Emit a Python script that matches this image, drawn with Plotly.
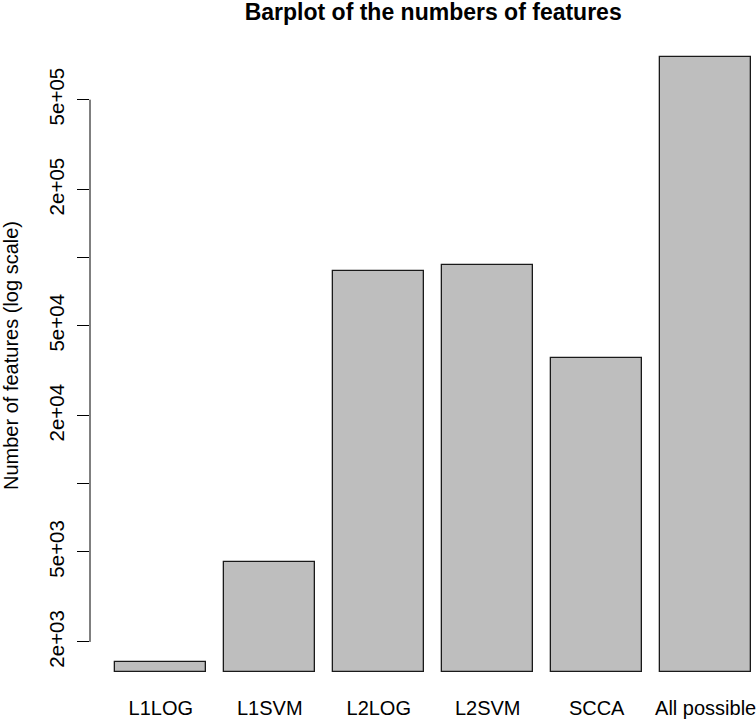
import math

import plotly.graph_objects as go

# data (log scale)
methods = ["L1LOG", "L1SVM", "L2LOG", "L2SVM", "SCCA", "All possible"]
n_features = [1630, 4520, 87600, 93100, 36100, 775000]

tick_vals = [2000, 5000, 10000, 20000, 50000, 100000, 200000, 500000]
tick_text = ["2e+03", "5e+03", "", "2e+04", "5e+04", "", "2e+05", "5e+05"]

FONT = "Liberation Sans, Arial, Helvetica, sans-serif"

# R barplot geometry: width 1, space 0.2, bars rest on 0.9 * min(height)
centers = [0.7 + 1.2 * i for i in range(len(methods))]
rect_base = 0.9 * min(n_features)

lo, hi = math.log10(rect_base), math.log10(max(n_features))
pad = 0.04 * (hi - lo)
y_range = [lo - pad, hi + pad]

W, H = 756, 719
L, R, T, B = 90, 0, 32, 22
px_per_unit = 90.8
x_range = [-0.08, -0.08 + (W - L - R) / px_per_unit]

fig = go.Figure()
fig.add_trace(
    go.Bar(
        x=centers,
        y=[v - rect_base for v in n_features],
        base=rect_base,
        width=1,
        marker=dict(color="#BEBEBE", line=dict(color="#1a1a1a", width=1.3)),
        customdata=n_features,
        hovertemplate="%{customdata}<extra></extra>",
    )
)

fig.update_layout(
    width=W,
    height=H,
    margin=dict(l=L, r=R, t=T, b=B, autoexpand=False),
    plot_bgcolor="white",
    paper_bgcolor="white",
    showlegend=False,
    font=dict(family=FONT, color="black", size=20),
    title=dict(
        text="<b>Barplot of the numbers of features</b>",
        font=dict(family=FONT, size=23, color="black"),
        x=(L + 3.78 * px_per_unit) / W,
        xref="container",
        xanchor="center",
        y=1 - 12 / H,
        yref="container",
        yanchor="middle",
    ),
    bargap=0,
)

fig.update_xaxes(
    range=x_range,
    tickvals=centers,
    ticktext=methods,
    ticks="",
    showline=False,
    showgrid=False,
    zeroline=False,
    automargin=False,
    ticklabeloverflow="allow",
    ticklabelstandoff=-3,
    tickfont=dict(size=20),
)

fig.update_yaxes(
    type="log",
    range=y_range,
    tickvals=tick_vals,
    ticktext=tick_text,
    tickangle=-90,
    ticks="outside",
    ticklen=12,
    tickwidth=1,
    tickcolor="black",
    showline=False,
    showgrid=False,
    zeroline=False,
    automargin=False,
    ticklabelstandoff=5,
    tickfont=dict(size=20.5),
)

# R-style axis line: only between the first and last tick
fig.add_shape(
    type="line",
    xref="paper",
    yref="y",
    x0=0,
    x1=0,
    y0=tick_vals[0],
    y1=tick_vals[-1],
    line=dict(color="black", width=1),
)

fig.add_annotation(
    text="Number of features (log scale)",
    textangle=-90,
    xref="paper",
    yref="paper",
    x=(11 - L) / (W - L - R),
    y=(H - B - 356) / (H - T - B),
    xanchor="center",
    yanchor="middle",
    showarrow=False,
    font=dict(size=20, family=FONT, color="black"),
)

# drop the browser's default body margin so the figure sits at the page corner
fig.write_html(
    "out.html",
    config={"displayModeBar": False},
    post_script="document.body.style.margin = '0';",
)
